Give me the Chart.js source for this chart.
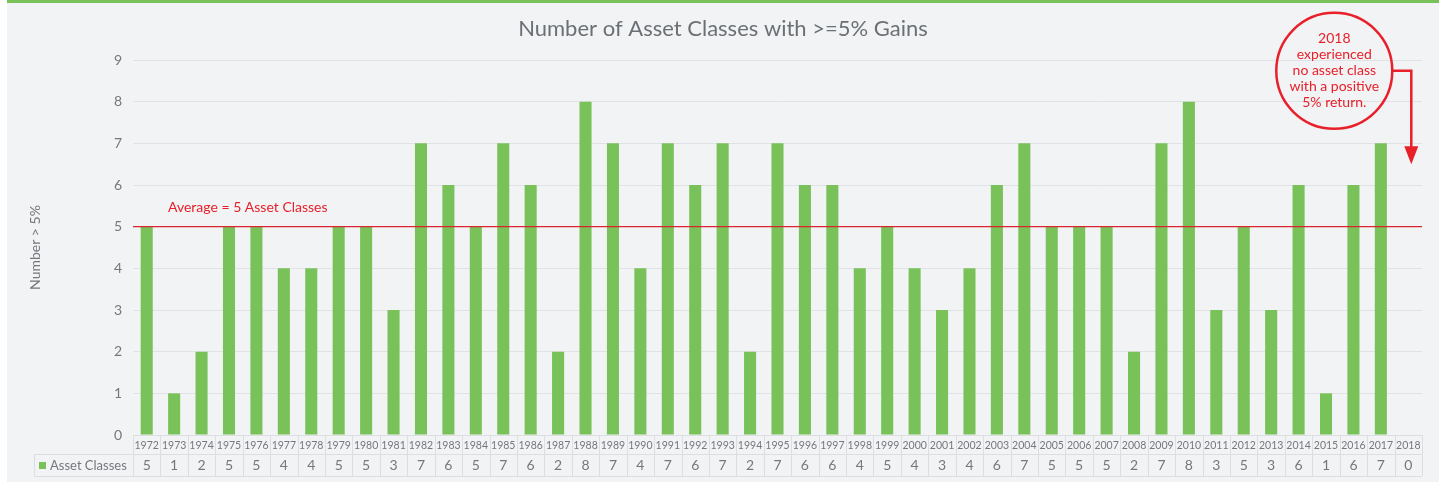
<!DOCTYPE html>
<html>
<head>
<meta charset="utf-8">
<script src="https://cdn.jsdelivr.net/npm/chart.js@4.4.1/dist/chart.umd.min.js"></script>
<style>
  html, body { margin: 0; padding: 0; background: #ffffff; }
  #panel { position: absolute; left: 7px; top: 0; right: 0; height: 482px; background: #f2f3f5; border-top: 3px solid #79c25a; box-sizing: border-box; }
  #wrap { position: absolute; left: 0; top: 0; width: 1439px; height: 482px; }
</style>
</head>
<body>
<div id="panel"></div>
<div id="wrap"><canvas id="chart"></canvas></div>
<script>
// --- Datos ---
const years = ['1972','1973','1974','1975','1976','1977','1978','1979','1980','1981',
  '1982','1983','1984','1985','1986','1987','1988','1989','1990','1991',
  '1992','1993','1994','1995','1996','1997','1998','1999','2000','2001',
  '2002','2003','2004','2005','2006','2007','2008','2009','2010','2011',
  '2012','2013','2014','2015','2016','2017','2018'];
const assetClasses = [5,1,2,5,5,4,4,5,5,3,7,6,5,7,6,2,8,7,4,7,6,7,2,7,6,6,4,5,4,3,
  4,6,7,5,5,5,2,7,8,3,5,3,6,1,6,7,0];
const averageValue = 5;
const yMin = 0;
const yMax = 9;
const chartTitle = 'Number of Asset Classes with >=5% Gains';
const seriesName = 'Asset Classes';
const averageLabel = 'Average = 5 Asset Classes';
const calloutLines = ['2018', 'experienced', 'no asset class', 'with a positive', '5% return.'];

const FONT = 'Lato, "Open Sans", sans-serif';
const GREEN = '#79c25a';
const RED = '#e8202a';
const TEXT = '#74787d';
const BORDER = '#dcdee1';

// Dibuja titulo, linea de promedio, callout y tabla de datos
const extrasPlugin = {
  id: 'extras',
  afterDatasetsDraw(chart) {
    const { ctx, chartArea, scales: { y } } = chart;
    const yAvg = y.getPixelForValue(averageValue);
    ctx.save();
    ctx.strokeStyle = '#d9252f';
    ctx.lineWidth = 1.2;
    ctx.beginPath();
    ctx.moveTo(chartArea.left, yAvg);
    ctx.lineTo(chartArea.right, yAvg);
    ctx.stroke();
    ctx.fillStyle = RED;
    ctx.font = '14px ' + FONT;
    ctx.textBaseline = 'middle';
    ctx.textAlign = 'left';
    ctx.fillText(averageLabel, chartArea.left + 35, yAvg - 19);
    ctx.restore();
  },
  afterDraw(chart) {
    const { ctx, chartArea, scales: { x, y } } = chart;
    const n = years.length;
    const cellW = (chartArea.right - chartArea.left) / n;
    ctx.save();

    // Titulo
    ctx.fillStyle = '#6b7075';
    ctx.font = '22px ' + FONT;
    ctx.textAlign = 'center';
    ctx.textBaseline = 'middle';
    ctx.fillText(chartTitle, 723, 29);

    // Tabla
    const top = chartArea.bottom;
    const mid = top + 19;
    const bot = mid + 22;
    const labelLeft = 34;
    ctx.strokeStyle = BORDER;
    ctx.lineWidth = 1;
    ctx.beginPath();
    ctx.moveTo(chartArea.left, top + 0.5); ctx.lineTo(chartArea.right, top + 0.5);
    ctx.moveTo(labelLeft, mid + 0.5); ctx.lineTo(chartArea.right, mid + 0.5);
    ctx.moveTo(labelLeft, bot + 0.5); ctx.lineTo(chartArea.right, bot + 0.5);
    ctx.moveTo(labelLeft + 0.5, mid); ctx.lineTo(labelLeft + 0.5, bot);
    for (let i = 0; i <= n; i++) {
      const cx = Math.round(chartArea.left + i * cellW) + 0.5;
      ctx.moveTo(cx, top); ctx.lineTo(cx, bot);
    }
    ctx.stroke();

    ctx.fillStyle = TEXT;
    ctx.textAlign = 'center';
    ctx.textBaseline = 'middle';
    years.forEach((yr, i) => {
      const cx = x.getPixelForValue(i);
      ctx.font = '12px ' + FONT;
      ctx.fillText(yr, cx, top + 10, cellW - 3);
      ctx.font = '14px ' + FONT;
      ctx.fillText(String(assetClasses[i]), cx, mid + 11.5);
    });
    ctx.fillStyle = GREEN;
    ctx.fillRect(labelLeft + 5, mid + 8, 7, 7);
    ctx.fillStyle = TEXT;
    ctx.font = '13px ' + FONT;
    ctx.textAlign = 'left';
    ctx.fillText(seriesName, labelLeft + 16, mid + 11.5);

    // Callout 2018
    const ax = x.getPixelForValue(n - 1) + 3;
    const hy = y.getPixelForValue(8.74);
    const tipY = y.getPixelForValue(6.5);
    const cx = ax - 77;
    const cy = hy;
    const r = 58;
    ctx.strokeStyle = RED;
    ctx.lineWidth = 2.5;
    ctx.beginPath();
    ctx.arc(cx, cy, r, 0, Math.PI * 2);
    ctx.stroke();
    ctx.beginPath();
    ctx.moveTo(cx + r, hy);
    ctx.lineTo(ax, hy);
    ctx.lineTo(ax, tipY - 16);
    ctx.stroke();
    ctx.fillStyle = RED;
    ctx.beginPath();
    ctx.moveTo(ax - 7, tipY - 18);
    ctx.lineTo(ax + 7, tipY - 18);
    ctx.lineTo(ax, tipY);
    ctx.closePath();
    ctx.fill();
    ctx.font = '14px ' + FONT;
    ctx.textAlign = 'center';
    calloutLines.forEach((t, i) => ctx.fillText(t, cx, cy - 32 + i * 16));
    ctx.restore();
  }
};

new Chart(document.getElementById('chart'), {
  type: 'bar',
  data: {
    labels: years,
    datasets: [{
      label: seriesName,
      data: assetClasses,
      backgroundColor: GREEN,
      barPercentage: 0.44,
      categoryPercentage: 1.0
    }]
  },
  options: {
    responsive: true,
    maintainAspectRatio: false,
    animation: false,
    layout: { padding: { left: 0, top: 60, right: 17, bottom: 47 } },
    plugins: {
      legend: { display: false },
      tooltip: { enabled: false },
      title: { display: false }
    },
    scales: {
      x: { display: false },
      y: {
        min: yMin,
        max: yMax,
        afterFit(scale) { scale.width = 133; },
        border: { display: false },
        grid: { color: '#e1e2e5', drawTicks: false },
        ticks: { stepSize: 1, padding: 11, color: TEXT, font: { family: FONT, size: 14 } },
        title: {
          display: true,
          text: 'Number > 5%',
          color: TEXT,
          font: { family: FONT, size: 14 },
          padding: { top: 27, bottom: 0 }
        }
      }
    }
  },
  plugins: [extrasPlugin]
});
</script>
</body>
</html>
